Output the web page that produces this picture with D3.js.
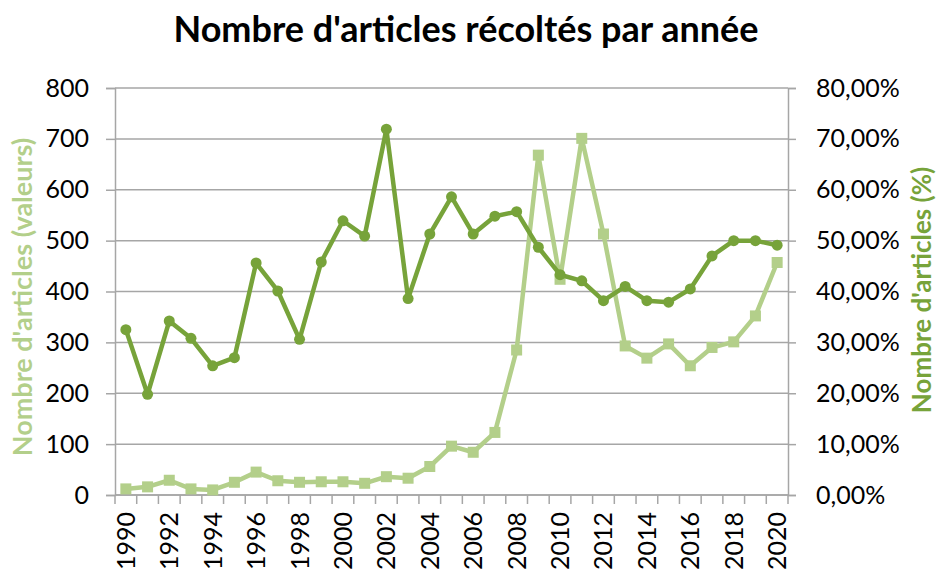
<!DOCTYPE html>
<html>
<head>
<meta charset="utf-8">
<script src="https://cdn.jsdelivr.net/npm/d3@7"></script>
<style>
  body { margin: 0; background: #fff; }
  text { font-family: Lato, "Open Sans", sans-serif; }
</style>
</head>
<body>
<div id="chart"></div>
<script>
// data
const years = d3.range(1990, 2021);
const valeurs = [12, 16, 29, 12, 10, 25, 45, 28, 25, 26, 26, 23, 36, 33, 56, 96,
    84, 123, 285, 668, 424, 701, 513, 293, 269, 297, 254, 290, 301, 352, 457];
const pourcents = [32.5, 19.8, 34.2, 30.8, 25.4, 27.0, 45.6, 40.1, 30.6, 45.8, 53.9, 50.9,
    71.9, 38.6, 51.3, 58.6, 51.3, 54.8, 55.7, 48.7, 43.3, 42.1, 38.2, 41.0, 38.2, 37.9,
    40.5, 47.0, 50.0, 50.0, 49.1];
const leftTicks = [0, 100, 200, 300, 400, 500, 600, 700, 800];
const rightTicks = [0, 10, 20, 30, 40, 50, 60, 70, 80];

const width = 938, height = 570;
const margin = {top: 88, right: 150, bottom: 75, left: 115};
const lightGreen = "#b3cf8a", darkGreen = "#77a33a", gridGrey = "#a6a6a6";

const svg = d3.select("#chart")
    .append("svg")
    .attr("width", width)
    .attr("height", height);

const x = d3.scaleBand()
    .domain(years)
    .range([margin.left, width - margin.right]);

const yLeft = d3.scaleLinear()
    .domain([0, 800])
    .range([height - margin.bottom, margin.top]);

const yRight = d3.scaleLinear()
    .domain([0, 80])
    .range([height - margin.bottom, margin.top]);

const cx = d => x(d) + x.bandwidth() / 2;

// title
svg.append("text")
    .attr("x", 466)
    .attr("y", 42)
    .attr("text-anchor", "middle")
    .attr("font-size", 36)
    .attr("font-weight", 700)
    .attr("fill", "#000")
    .text("Nombre d'articles récoltés par année");

// gridlines
svg.append("g")
    .selectAll("line")
    .data(leftTicks)
    .enter()
    .append("line")
    .attr("x1", margin.left)
    .attr("x2", width - margin.right)
    .attr("y1", d => yLeft(d))
    .attr("y2", d => yLeft(d))
    .attr("stroke", gridGrey)
    .attr("stroke-width", 1.5);

// left axis
const leftAxis = svg.append("g")
    .attr("transform", `translate(${margin.left},0)`)
    .call(d3.axisLeft(yLeft).tickValues(leftTicks).tickSize(9).tickPadding(17));

// right axis
const rightAxis = svg.append("g")
    .attr("transform", `translate(${width - margin.right},0)`)
    .call(d3.axisRight(yRight).tickValues(rightTicks).tickSize(8).tickPadding(20)
        .tickFormat(d => d3.format(".2f")(d).replace(".", ",") + "%"));

// bottom axis: ticks at category boundaries, labels every other year
const bottom = svg.append("g")
    .attr("transform", `translate(0,${height - margin.bottom})`);

bottom.append("line")
    .attr("x1", margin.left)
    .attr("x2", width - margin.right)
    .attr("stroke", gridGrey)
    .attr("stroke-width", 1.5);

bottom.selectAll(".bound")
    .data(years.concat([2021]))
    .enter()
    .append("line")
    .attr("class", "bound")
    .attr("x1", d => d === 2021 ? width - margin.right : x(d))
    .attr("x2", d => d === 2021 ? width - margin.right : x(d))
    .attr("y1", 0)
    .attr("y2", 9)
    .attr("stroke", gridGrey)
    .attr("stroke-width", 1.5);

bottom.selectAll(".year")
    .data(years.filter(d => d % 2 === 0))
    .enter()
    .append("text")
    .attr("class", "year")
    .attr("transform", d => `translate(${cx(d)},17) rotate(-90)`)
    .attr("text-anchor", "end")
    .attr("dy", "0.36em")
    .attr("font-size", 25)
    .attr("fill", "#000")
    .text(d => d);

[leftAxis, rightAxis].forEach(g => {
    g.select(".domain").attr("stroke", gridGrey).attr("stroke-width", 1.5);
    g.selectAll(".tick line").attr("stroke", gridGrey).attr("stroke-width", 1.5);
    g.selectAll(".tick text")
        .attr("font-family", "Lato, sans-serif")
        .attr("font-size", 25)
        .attr("fill", "#000");
});

// axis titles
svg.append("text")
    .attr("transform", `translate(22,297) rotate(-90)`)
    .attr("text-anchor", "middle")
    .attr("dy", "0.36em")
    .attr("font-size", 27)
    .attr("font-weight", 700)
    .attr("fill", lightGreen)
    .text("Nombre d'articles (valeurs)");

svg.append("text")
    .attr("transform", `translate(922,290) rotate(-90)`)
    .attr("text-anchor", "middle")
    .attr("dy", "0.36em")
    .attr("font-size", 26)
    .attr("font-weight", 700)
    .attr("fill", darkGreen)
    .text("Nombre d'articles (%)");

// values series (light, squares)
const lineLeft = d3.line()
    .x((d, i) => cx(years[i]))
    .y(d => yLeft(d));

svg.append("path")
    .datum(valeurs)
    .attr("d", lineLeft)
    .attr("fill", "none")
    .attr("stroke", lightGreen)
    .attr("stroke-width", 4.5)
    .attr("stroke-linejoin", "round");

svg.append("g")
    .selectAll("rect")
    .data(valeurs)
    .enter()
    .append("rect")
    .attr("x", (d, i) => cx(years[i]) - 5.5)
    .attr("y", d => yLeft(d) - 5.5)
    .attr("width", 11)
    .attr("height", 11)
    .attr("fill", lightGreen);

// percent series (dark, circles)
const lineRight = d3.line()
    .x((d, i) => cx(years[i]))
    .y(d => yRight(d));

svg.append("path")
    .datum(pourcents)
    .attr("d", lineRight)
    .attr("fill", "none")
    .attr("stroke", darkGreen)
    .attr("stroke-width", 4.5)
    .attr("stroke-linejoin", "round");

svg.append("g")
    .selectAll("circle")
    .data(pourcents)
    .enter()
    .append("circle")
    .attr("cx", (d, i) => cx(years[i]))
    .attr("cy", d => yRight(d))
    .attr("r", 5.5)
    .attr("fill", darkGreen);
</script>
</body>
</html>
